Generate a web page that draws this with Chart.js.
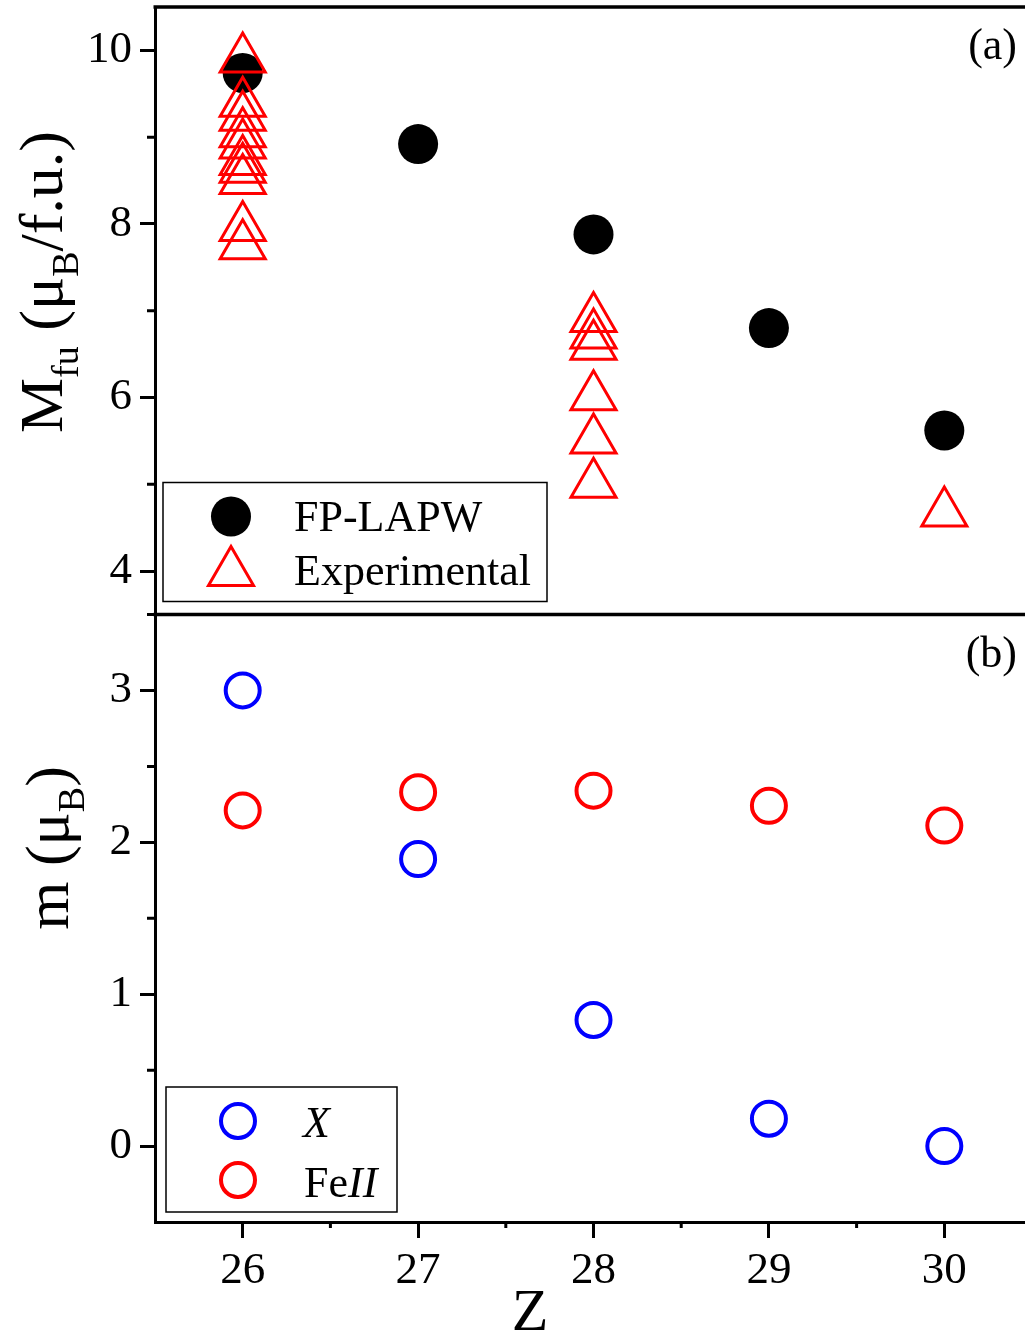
<!DOCTYPE html>
<html>
<head>
<meta charset="utf-8">
<script src="https://cdn.jsdelivr.net/npm/chart.js@4/dist/chart.umd.min.js"></script>
<style>
html, body { margin: 0; padding: 0; background: #fff; overflow: hidden; }
</style>
</head>
<body>
<canvas id="chart" width="1025" height="1334"></canvas>
<script>
// data
const zAll = [26, 27, 28, 29, 30];
const fpLapw = [9.74, 8.92, 7.88, 6.80, 5.62];
const expZ = [26, 26, 26, 26, 26, 26, 26, 26, 26, 26, 28, 28, 28, 28, 28, 28, 30];
const expM = [9.90, 9.39, 9.23, 9.04, 8.91, 8.72, 8.63, 8.50, 7.96, 7.75, 6.91, 6.72, 6.59, 6.01, 5.51, 5.00, 4.67];
const momX = [3.00, 1.89, 0.83, 0.18, 0.00];
const momFe = [2.21, 2.33, 2.34, 2.24, 2.11];

const zTicks = [26, 27, 28, 29, 30];
const zMinor = [26.5, 27.5, 28.5, 29.5];
const topTicks = [4, 6, 8, 10];
const topMinor = [5, 7, 9];
const botTicks = [0, 1, 2, 3];
const botMinor = [0.5, 1.5, 2.5, 3.5];

const SERIF = '"Liberation Serif", "DejaVu Serif", serif';
const pts = (xs, ys) => xs.map((x, i) => ({x, y: ys[i]}));
const fixTicks = list => scale => { scale.ticks = list.map(v => ({value: v})); };

// minor ticks, frame lines, titles, legends
const decor = {
    id: 'decor',
    afterDraw(chart) {
        const {ctx, chartArea: ca, scales} = chart;
        const {x, yTop, yBot} = scales;
        ctx.save();
        ctx.strokeStyle = '#000';
        ctx.lineWidth = 3;
        ctx.beginPath();
        topMinor.forEach(v => { const p = yTop.getPixelForValue(v); ctx.moveTo(ca.left - 8, p); ctx.lineTo(ca.left, p); });
        botMinor.forEach(v => { const p = yBot.getPixelForValue(v); ctx.moveTo(ca.left - 8, p); ctx.lineTo(ca.left, p); });
        zMinor.forEach(v => { const p = x.getPixelForValue(v); ctx.moveTo(p, ca.bottom); ctx.lineTo(p, ca.bottom + 6); });
        ctx.stroke();
        // top frame and divider
        ctx.lineWidth = 3.5;
        ctx.beginPath();
        ctx.moveTo(ca.left - 1.5, yTop.top); ctx.lineTo(ca.right, yTop.top);
        ctx.moveTo(ca.left - 1.5, yBot.top); ctx.lineTo(ca.right, yBot.top);
        ctx.stroke();

        ctx.fillStyle = '#000';
        ctx.textBaseline = 'alphabetic';
        // panel labels
        ctx.font = '44px ' + SERIF;
        ctx.textAlign = 'right';
        ctx.fillText('(a)', ca.right - 8, yTop.top + 52);
        ctx.fillText('(b)', ca.right - 8, yBot.top + 52);
        // x title
        ctx.textAlign = 'center';
        ctx.font = '60px ' + SERIF;
        ctx.fillText('Z', 530, 1330);

        // rotated y titles with subscripts
        const rich = (parts, bx, cy) => {
            ctx.save();
            ctx.translate(bx, cy);
            ctx.rotate(-Math.PI / 2);
            ctx.textAlign = 'left';
            let total = 0;
            parts.forEach(p => { ctx.font = p.size + 'px ' + SERIF; p.w = ctx.measureText(p.t).width; total += p.w; });
            let cx = -total / 2;
            parts.forEach(p => {
                ctx.font = p.size + 'px ' + SERIF;
                ctx.fillText(p.t, cx, p.sub ? 16 : 0);
                cx += p.w;
            });
            ctx.restore();
        };
        rich([{t: 'M', size: 62}, {t: 'fu', size: 38, sub: true}, {t: ' (', size: 62}, {t: 'μ', size: 62},
              {t: 'B', size: 38, sub: true}, {t: '/f.u.)', size: 62}], 62, 282);
        rich([{t: 'm (', size: 62}, {t: 'μ', size: 62}, {t: 'B', size: 38, sub: true}, {t: ')', size: 62}], 68, 848);

        // legends
        const ds = chart.data.datasets;
        const marker = (d, px, py) => {
            ctx.fillStyle = d.backgroundColor;
            ctx.strokeStyle = d.borderColor;
            ctx.lineWidth = d.borderWidth;
            Chart.helpers.drawPoint(ctx, {pointStyle: d.pointStyle, radius: d.pointRadius, rotation: 0, borderWidth: d.borderWidth}, px, py);
        };
        ctx.lineWidth = 1.5;
        ctx.strokeStyle = '#000';
        ctx.strokeRect(ca.left + 8, yTop.bottom - 132, 384, 119);
        ctx.strokeRect(ca.left + 11, yBot.bottom - 135, 231, 125);
        marker(ds[0], ca.left + 76, yTop.bottom - 98);
        marker(ds[1], ca.left + 76, yTop.bottom - 42);
        marker(ds[2], ca.left + 83, yBot.bottom - 101);
        marker(ds[3], ca.left + 83, yBot.bottom - 42);
        ctx.fillStyle = '#000';
        ctx.textAlign = 'left';
        ctx.font = '44px ' + SERIF;
        ctx.fillText('FP-LAPW', ca.left + 139, yTop.bottom - 84);
        ctx.fillText('Experimental', ca.left + 139, yTop.bottom - 30);
        ctx.font = 'italic 44px ' + SERIF;
        ctx.fillText('X', ca.left + 148, yBot.bottom - 85);
        ctx.font = '44px ' + SERIF;
        ctx.fillText('Fe', ca.left + 149, yBot.bottom - 25);
        const fw = ctx.measureText('Fe').width;
        ctx.font = 'italic 44px ' + SERIF;
        ctx.fillText('II', ca.left + 149 + fw, yBot.bottom - 25);
        ctx.restore();
    }
};

const yCommon = (min, max, ticks) => ({
    type: 'linear',
    position: 'left',
    stack: 'panels',
    stackWeight: 1,
    min, max,
    afterBuildTicks: fixTicks(ticks),
    afterFit: scale => { scale.width = 155; scale.paddingTop = 0; scale.paddingBottom = 0; },
    ticks: {color: '#000', font: {family: SERIF, size: 45}, padding: 8},
    grid: {drawOnChartArea: false, tickLength: 15, tickWidth: 3, tickColor: '#000'},
    border: {display: true, color: '#000', width: 3}
});

new Chart(document.getElementById('chart'), {
    type: 'scatter',
    data: {
        datasets: [
            {label: 'FP-LAPW', data: pts(zAll, fpLapw), yAxisID: 'yTop', order: 2,
             pointStyle: 'circle', pointRadius: 20, backgroundColor: '#000', borderColor: '#000', borderWidth: 0},
            {label: 'Experimental', data: pts(expZ, expM), yAxisID: 'yTop', order: 1,
             pointStyle: 'triangle', pointRadius: 26, backgroundColor: 'rgba(0,0,0,0)', borderColor: '#ff0000', borderWidth: 3},
            {label: 'X', data: pts(zAll, momX), yAxisID: 'yBot', order: 1,
             pointStyle: 'circle', pointRadius: 17, backgroundColor: 'rgba(0,0,0,0)', borderColor: '#0000ff', borderWidth: 4},
            {label: 'FeII', data: pts(zAll, momFe), yAxisID: 'yBot', order: 1,
             pointStyle: 'circle', pointRadius: 17, backgroundColor: 'rgba(0,0,0,0)', borderColor: '#ff0000', borderWidth: 4}
        ]
    },
    options: {
        responsive: false,
        animation: false,
        layout: {autoPadding: false, padding: {top: 7, left: 0, right: 0, bottom: 0}},
        plugins: {legend: {display: false}, tooltip: {enabled: false}},
        elements: {point: {hoverRadius: 0}},
        scales: {
            x: {
                type: 'linear',
                min: 25.5, max: 30.46,
                afterBuildTicks: fixTicks(zTicks),
                afterFit: scale => { scale.height = 112; scale.paddingLeft = 0; scale.paddingRight = 0; },
                ticks: {color: '#000', font: {family: SERIF, size: 45}, padding: 6},
                grid: {drawOnChartArea: false, tickLength: 16, tickWidth: 3, tickColor: '#000'},
                border: {display: true, color: '#000', width: 3}
            },
            yBot: yCommon(-0.5, 3.5, botTicks),
            yTop: yCommon(3.5, 10.5, topTicks)
        }
    },
    plugins: [decor]
});
</script>
</body>
</html>
